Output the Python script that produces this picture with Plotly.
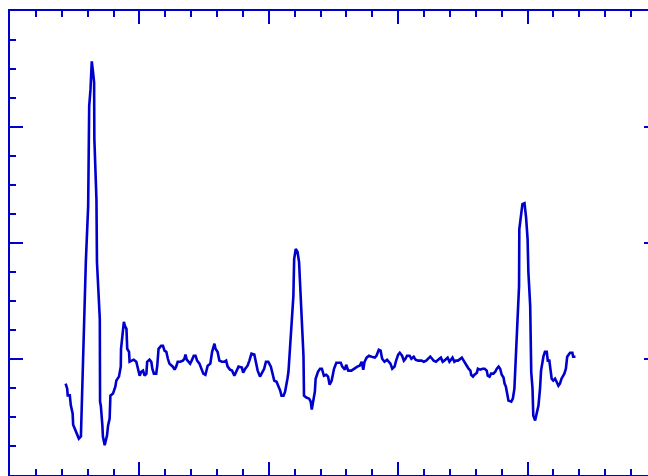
import plotly.graph_objects as go

# ECG trace (time in seconds, amplitude in mV)
time_s = [
    0.215, 0.221, 0.223, 0.231, 0.235, 0.242, 0.244, 0.253, 0.261, 0.266,
    0.274, 0.276, 0.282, 0.286, 0.293, 0.302, 0.305, 0.306, 0.311, 0.316,
    0.321, 0.325, 0.326, 0.334, 0.336, 0.347, 0.348, 0.351, 0.357, 0.359,
    0.366, 0.375, 0.379, 0.385, 0.388, 0.398, 0.407, 0.411, 0.421, 0.428,
    0.429, 0.434, 0.440, 0.444, 0.450, 0.453, 0.460, 0.462, 0.469, 0.478,
    0.488, 0.494, 0.501, 0.507, 0.514, 0.520, 0.527, 0.530, 0.539, 0.546,
    0.550, 0.556, 0.565, 0.569, 0.574, 0.584, 0.591, 0.597, 0.604, 0.610,
    0.616, 0.629, 0.636, 0.642, 0.648, 0.658, 0.668, 0.674, 0.678, 0.683,
    0.690, 0.696, 0.702, 0.710, 0.717, 0.723, 0.732, 0.741, 0.747, 0.755,
    0.764, 0.774, 0.781, 0.790, 0.794, 0.802, 0.809, 0.819, 0.828, 0.835,
    0.841, 0.850, 0.858, 0.867, 0.873, 0.883, 0.896, 0.901, 0.909, 0.918,
    0.925, 0.933, 0.944, 0.950, 0.957, 0.966, 0.973, 0.982, 0.989, 0.998,
    1.008, 1.014, 1.021, 1.030, 1.037, 1.044, 1.049, 1.057, 1.063, 1.066,
    1.072, 1.076, 1.079, 1.085, 1.091, 1.095, 1.098, 1.104, 1.111, 1.117,
    1.120, 1.126, 1.130, 1.134, 1.136, 1.145, 1.156, 1.162, 1.166, 1.172,
    1.178, 1.181, 1.190, 1.198, 1.205, 1.213, 1.222, 1.229, 1.235, 1.243,
    1.252, 1.261, 1.271, 1.278, 1.284, 1.294, 1.299, 1.307, 1.319, 1.329,
    1.342, 1.351, 1.359, 1.365, 1.370, 1.378, 1.387, 1.397, 1.410, 1.416,
    1.425, 1.432, 1.438, 1.447, 1.457, 1.464, 1.470, 1.477, 1.486, 1.492,
    1.500, 1.506, 1.515, 1.522, 1.528, 1.534, 1.544, 1.551, 1.560, 1.567,
    1.577, 1.590, 1.599, 1.608, 1.618, 1.624, 1.631, 1.637, 1.646, 1.653,
    1.659, 1.665, 1.672, 1.678, 1.685, 1.691, 1.698, 1.704, 1.710, 1.717,
    1.723, 1.731, 1.740, 1.746, 1.753, 1.759, 1.765, 1.772, 1.779, 1.782,
    1.789, 1.795, 1.804, 1.808, 1.817, 1.826, 1.834, 1.842, 1.846, 1.853,
    1.859, 1.868, 1.875, 1.881, 1.888, 1.894, 1.900, 1.907, 1.911, 1.916,
    1.920, 1.926, 1.937, 1.943, 1.949, 1.954, 1.958, 1.962, 1.967, 1.968,
    1.975, 1.980, 1.988, 1.994, 2.000, 2.003, 2.010, 2.014, 2.019, 2.022,
    2.029, 2.035, 2.042, 2.048, 2.052, 2.061, 2.067, 2.074, 2.078, 2.084,
    2.087, 2.093, 2.099, 2.106, 2.112, 2.119, 2.125, 2.131, 2.142, 2.148,
    2.153, 2.164, 2.173, 2.176, 2.185,
]

ecg_mv = [
    -0.106, -0.128, -0.157, -0.157, -0.200, -0.235, -0.283, -0.307, -0.335, -0.343,
    -0.334, -0.257, -0.007, 0.186, 0.418, 0.659, 0.874, 1.089, 1.162, 1.283,
    1.235, 1.192, 0.947, 0.689, 0.418, 0.173, -0.184, -0.201, -0.287, -0.334,
    -0.372, -0.329, -0.286, -0.257, -0.158, -0.149, -0.119, -0.093, -0.076, -0.033,
    0.044, 0.100, 0.160, 0.143, 0.130, 0.044, 0.031, -0.012, -0.007, -0.003,
    -0.012, -0.042, -0.072, -0.055, -0.050, -0.072, -0.063, -0.012, -0.003, -0.012,
    -0.042, -0.063, -0.063, -0.029, 0.044, 0.057, 0.057, 0.036, 0.031, 0.001,
    -0.020, -0.033, -0.046, -0.033, -0.012, -0.012, -0.007, 0.001, 0.019, -0.003,
    -0.012, -0.020, -0.007, 0.014, 0.014, -0.007, -0.020, -0.042, -0.063, -0.068,
    -0.029, -0.020, 0.031, 0.066, 0.044, 0.031, -0.007, -0.012, -0.012, -0.007,
    -0.033, -0.046, -0.050, -0.072, -0.055, -0.033, -0.037, -0.059, -0.042, -0.029,
    -0.007, 0.023, 0.019, -0.007, -0.050, -0.076, -0.063, -0.042, -0.012, -0.012,
    -0.033, -0.063, -0.093, -0.098, -0.115, -0.136, -0.158, -0.158, -0.141, -0.115,
    -0.085, -0.055, 0.001, 0.066, 0.173, 0.272, 0.431, 0.474, 0.461, 0.418,
    0.345, 0.203, 0.087, 0.014, -0.158, -0.166, -0.171, -0.184, -0.218, -0.184,
    -0.141, -0.085, -0.055, -0.042, -0.042, -0.072, -0.068, -0.076, -0.111, -0.093,
    -0.042, -0.016, -0.016, -0.016, -0.033, -0.046, -0.025, -0.050, -0.050, -0.042,
    -0.033, -0.029, -0.012, -0.046, -0.012, 0.006, 0.014, 0.010, 0.006, 0.014,
    0.040, 0.036, 0.001, -0.012, -0.003, -0.012, -0.020, -0.042, -0.033, -0.007,
    0.019, 0.027, 0.014, -0.007, 0.001, 0.014, 0.014, 0.001, 0.010, -0.003,
    -0.007, -0.007, -0.012, -0.007, 0.006, 0.010, 0.001, -0.007, -0.012, -0.007,
    0.001, 0.006, -0.012, -0.007, 0.001, 0.006, -0.012, -0.003, 0.006, -0.012,
    -0.007, -0.007, 0.001, 0.006, -0.007, -0.016, -0.029, -0.042, -0.050, -0.068,
    -0.076, -0.068, -0.059, -0.042, -0.046, -0.042, -0.042, -0.050, -0.072, -0.076,
    -0.063, -0.063, -0.055, -0.042, -0.033, -0.042, -0.068, -0.080, -0.106, -0.119,
    -0.149, -0.179, -0.184, -0.171, -0.128, 0.001, 0.074, 0.186, 0.315, 0.560,
    0.616, 0.668, 0.672, 0.612, 0.517, 0.375, 0.229, -0.055, -0.128, -0.244,
    -0.265, -0.227, -0.201, -0.128, -0.050, 0.010, 0.031, 0.031, -0.007, -0.007,
    -0.042, -0.085, -0.093, -0.085, -0.098, -0.115, -0.106, -0.085, -0.063, -0.042,
    0.010, 0.027, 0.027, 0.010, 0.010,
]

# axis settings (no tick labels in the reference)
x_range = [0.0, 2.5]
y_range = [-0.5, 1.5]
x_major, x_minor = 0.5, 0.1
y_major, y_minor = 0.5, 0.125

BLUE = "#0000CD"

fig = go.Figure()
fig.add_trace(go.Scatter(
    x=time_s, y=ecg_mv, mode="lines",
    line=dict(color=BLUE, width=2.6),
    showlegend=False, hoverinfo="skip",
))

# The frame's right and bottom sides lie just past the edge of the picture,
# as in the reference; the page is clipped to the window.
fig.update_layout(
    width=659, height=477,
    margin=dict(l=10, r=0, t=11, b=0, pad=0),
    paper_bgcolor="white", plot_bgcolor="white",
    showlegend=False,
    xaxis=dict(
        range=x_range, side="top", showline=True, linecolor=BLUE, linewidth=2,
        mirror="ticks", ticks="inside", ticklen=13, tickwidth=2, tickcolor=BLUE,
        tick0=0, dtick=x_major, showticklabels=False, showgrid=False, zeroline=False,
        minor=dict(ticks="inside", ticklen=6, tickwidth=2, tickcolor=BLUE,
                   tick0=0, dtick=x_minor, showgrid=False),
        fixedrange=True,
    ),
    yaxis=dict(
        range=y_range, side="left", showline=True, linecolor=BLUE, linewidth=2,
        mirror="ticks", ticks="inside", ticklen=13, tickwidth=2, tickcolor=BLUE,
        tick0=0, dtick=y_major, showticklabels=False, showgrid=False, zeroline=False,
        minor=dict(ticks="inside", ticklen=6, tickwidth=2, tickcolor=BLUE,
                   tick0=0, dtick=y_minor, showgrid=False),
        fixedrange=True,
    ),
)

page_css = (
    "document.documentElement.style.overflow='hidden';"
    "document.body.style.overflow='hidden';"
    "document.body.style.margin='0';"
)

fig.write_html("out.html", post_script=page_css,
               config={"displayModeBar": False, "staticPlot": True})
